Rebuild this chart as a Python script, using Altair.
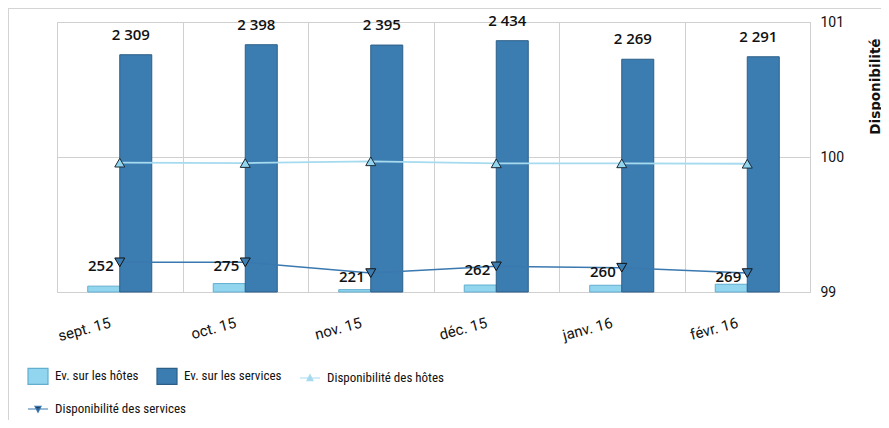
import altair as alt
import pandas as pd

months = ["sept. 15", "oct. 15", "nov. 15", "déc. 15", "janv. 16", "févr. 16"]
host_events = [252, 275, 221, 262, 260, 269]
service_events = [2309, 2398, 2395, 2434, 2269, 2291]
host_avail = [99.958, 99.955, 99.968, 99.953, 99.953, 99.95]
service_avail = [99.22, 99.22, 99.14, 99.19, 99.18, 99.14]

S_HE = "Ev. sur les hôtes"
S_SE = "Ev. sur les services"
S_HA = "Disponibilité des hôtes"
S_SA = "Disponibilité des services"
series = [S_HE, S_SE, S_HA]

FONT = "Roboto"
LEGFONT = "Liberation Sans Narrow, Roboto Condensed, Roboto"
NUMFONT = "Open Sans"


def fmt(v):
    return f"{v:,}".replace(",", " ")


bars_df = pd.DataFrame(
    [{"month": m, "series": S_HE, "value": v} for m, v in zip(months, host_events)]
    + [{"month": m, "series": S_SE, "value": v, "label": fmt(v)} for m, v in zip(months, service_events)]
)
serv_lbl_df = bars_df[bars_df["series"] == S_SE]
host_line_df = pd.DataFrame({"month": months, "value": host_avail, "series": S_HA})
serv_line_df = pd.DataFrame({"month": months, "value": service_avail, "series2": S_SA})
host_lbl_df = pd.DataFrame(
    {"month": months, "value": service_avail, "label": [str(v) for v in host_events]}
)
legend_df = pd.DataFrame({"month": [months[0]] * 3, "series": series, "value": [100] * 3})

HOST_LINE = "#a6dbef"
SERV_LINE = "#3a78b0"
color_scale = alt.Scale(domain=series, range=["#92d5ee", "#3c7db1", HOST_LINE])
stroke_scale = alt.Scale(domain=series, range=["#62aed0", "#2c5f88", HOST_LINE])
shape_scale = alt.Scale(
    domain=series,
    range=[
        "M-1,-0.8H1V0.8H-1Z",
        "M-1,-0.8H1V0.8H-1Z",
        "M-1,0H1M0,-0.33L0.3,0.26L-0.3,0.26Z",
    ],
)

leg_common = dict(
    title=None,
    orient="none",
    legendX=-30,
    direction="horizontal",
    symbolSize=400,
    symbolOpacity=1,
    symbolStrokeWidth=1.2,
    labelFont=LEGFONT,
    labelFontSize=13,
    labelColor="#111111",
    labelOffset=6,
    columnPadding=15,
)
legend1 = alt.Legend(legendY=343, columns=3, **leg_common)
legend2 = alt.Legend(
    legendY=376,
    symbolType="M-1,0H1M0,0.33L0.3,-0.26L-0.3,-0.26Z",
    symbolFillColor="#1f3f66",
    symbolStrokeColor=SERV_LINE,
    **leg_common,
)

x_enc = alt.X(
    "month:N",
    sort=months,
    title=None,
    scale=alt.Scale(paddingInner=0, paddingOuter=0),
    axis=alt.Axis(
        domain=False,
        ticks=False,
        tickSize=0,
        tickBand="extent",
        grid=True,
        gridColor="#d0d0d0",
        labelAngle=-15,
        labelAlign="right",
        labelBaseline="middle",
        labelPadding=30,
        labelOffset=-10,
        labelFont=FONT,
        labelFontSize=15,
        labelColor="#111111",
    ),
)
xoff_enc = alt.XOffset(
    "series:N", sort=[S_HE, S_SE], scale=alt.Scale(domain=[S_HE, S_SE], paddingInner=0, paddingOuter=0.96)
)
y_left = alt.Y("value:Q", scale=alt.Scale(domain=[200, 2600], zero=False), axis=None)
y_right = alt.Y(
    "value:Q",
    scale=alt.Scale(domain=[99, 101], zero=False, nice=False),
    axis=alt.Axis(
        orient="right",
        tickCount=2,
        format="d",
        grid=True,
        gridColor="#d0d0d0",
        domain=False,
        ticks=False,
        labelOverlap=False,
        labelPadding=10,
        labelFont=FONT,
        labelFontSize=14,
        labelColor="#111111",
        title="Disponibilité",
        titleFont="DejaVu Sans",
        titleFontSize=13.5,
        titleFontWeight="bold",
        titleColor="#111111",
        titleAngle=270,
        titleAlign="right",
        titleBaseline="middle",
        titleX=65,
        titleY=16,
    ),
)

bars = alt.Chart(bars_df).mark_bar(strokeWidth=1).encode(
    x=x_enc,
    xOffset=xoff_enc,
    y=y_left,
    y2=alt.datum(200),
    color=alt.Color("series:N", scale=color_scale, legend=legend1),
    stroke=alt.Stroke("series:N", scale=stroke_scale, legend=legend1),
)
bar_labels = alt.Chart(serv_lbl_df).mark_text(
    baseline="bottom", dy=-12, dx=-5, font=NUMFONT, fontSize=15, fontWeight=600, color="#111111"
).encode(x=x_enc, xOffset=xoff_enc, y=y_left, text="label:N")
left = alt.layer(bars, bar_labels)

host_line = alt.Chart(host_line_df).mark_line(strokeWidth=1.8, color=HOST_LINE).encode(x=x_enc, y=y_right)
serv_line = alt.Chart(serv_line_df).mark_line(strokeWidth=1.5, color=SERV_LINE).encode(
    x=x_enc,
    y=y_right,
    opacity=alt.Opacity("series2:N", scale=alt.Scale(domain=[S_SA], range=[1]), legend=legend2),
)
pts_host = alt.Chart(host_line_df).mark_point(
    shape="triangle-up", filled=True, size=100, color="#92d5ee", stroke="#1c2b36", strokeWidth=1, opacity=1
).encode(x=x_enc, y=y_right)
pts_serv = alt.Chart(serv_line_df).mark_point(
    shape="triangle-down", filled=True, size=100, color="#3c7db1", stroke="#111111", strokeWidth=1, opacity=1
).encode(x=x_enc, y=y_right)
host_labels = alt.Chart(host_lbl_df).mark_text(
    align="right", baseline="middle", dx=-6, dy=4, font=NUMFONT, fontSize=15, fontWeight=600, color="#111111"
).encode(x=x_enc, y=y_right, text="label:N")
legend_layer = alt.Chart(legend_df).mark_point(filled=True, size=0, opacity=0).encode(
    x=x_enc,
    y=y_right,
    color=alt.Color("series:N", scale=color_scale, legend=legend1),
    shape=alt.Shape("series:N", scale=shape_scale, legend=legend1),
    stroke=alt.Stroke("series:N", scale=stroke_scale, legend=legend1),
)
right = alt.layer(host_line, serv_line, pts_host, pts_serv, host_labels, legend_layer)

border = alt.Chart(pd.DataFrame({"a": [0]})).mark_rect(
    fillOpacity=0, stroke="#d4d4d4", strokeWidth=2
).encode(x=alt.value(-49), x2=alt.value(1000), y=alt.value(-14), y2=alt.value(600))

chart = (
    alt.layer(border, left, right)
    .resolve_scale(y="independent")
    .properties(
        width=753,
        height=270,
        autosize=alt.AutoSizeParams(type="none"),
        padding={"left": 49, "top": 14, "right": 71, "bottom": 128},
    )
    .configure_view(stroke="#d0d0d0")
)

chart.save("out.html", embed_options={"renderer": "svg", "actions": False})
